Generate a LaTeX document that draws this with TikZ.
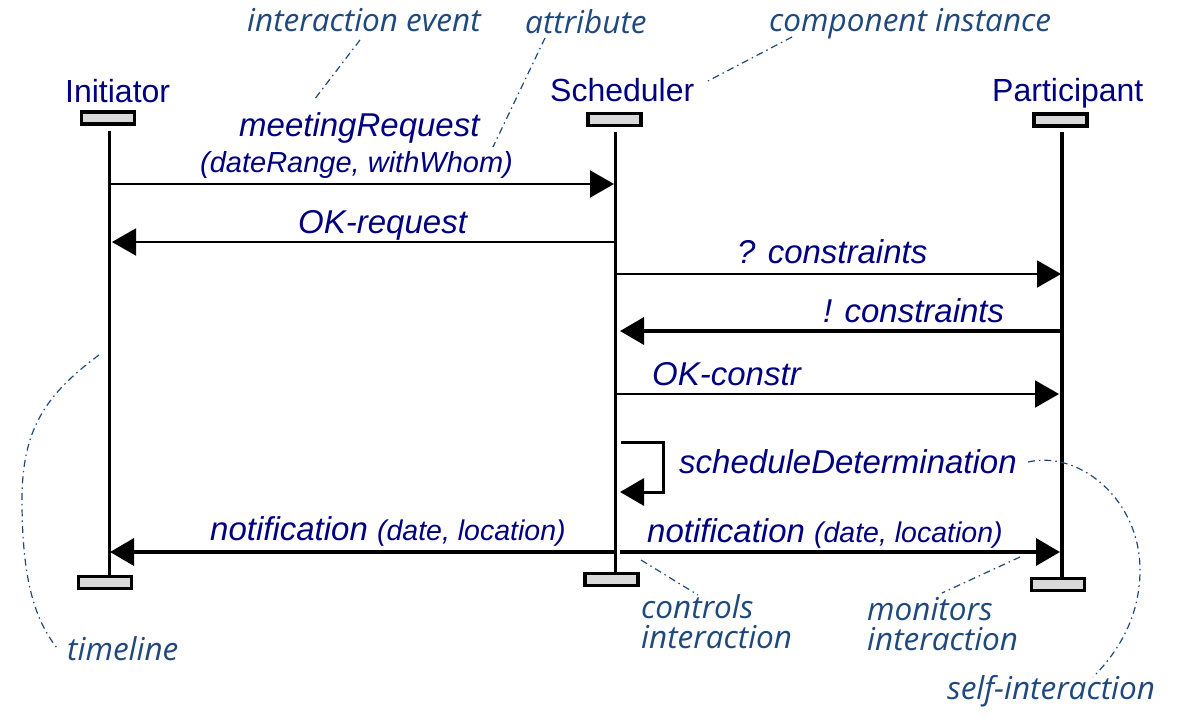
\documentclass[tikz,border=0pt]{standalone}
\usepackage{fontspec}
\setmainfont{Liberation Sans}
\newfontfamily\annfont{Open Sans}
\usetikzlibrary{arrows.meta}
\definecolor{navy}{RGB}{0,0,128}
\definecolor{ann}{RGB}{31,73,125}
\definecolor{boxgray}{RGB}{217,217,217}
\begin{document}
\begin{tikzpicture}[x=1pt,y=-1pt,
  lifebox/.style={draw=black, line width=3.5pt, fill=boxgray, minimum width=53pt, minimum height=12pt, inner sep=0pt},
  lifeline/.style={line width=3pt},
  msg/.style={line width=2pt, -{Triangle[length=24pt,width=27pt]}},
  msgbold/.style={msg, line width=3.5pt},
  hdr/.style={text=navy, font=\fontsize{32}{36}\selectfont, inner sep=0pt, anchor=base west},
  lbl/.style={text=navy, font=\fontsize{33}{36}\selectfont\itshape, inner sep=0pt, anchor=base west},
  lblsmall/.style={lbl, font=\fontsize{29}{32}\selectfont\itshape},
  annot/.style={text=ann, font=\annfont\fontsize{31.5}{34}\selectfont\itshape, inner sep=0pt, anchor=base west},
  leader/.style={draw=ann, line width=1.2pt, dash pattern=on 7pt off 4pt on 1.5pt off 4pt}
]
\useasboundingbox (0,0) rectangle (1193,722);

% headers
\node[hdr] (hI) at (65,103) {Initiator};
\node[hdr] (hS) at (550,102) {Scheduler};
\node[hdr] (hP) at (992,102) {Participant};

% lifeline boxes
\node[lifebox] (tI) at (108,118) {};
\node[lifebox] (tS) at (614.5,119.5) {};
\node[lifebox] (tP) at (1060.5,120) {};
\node[lifebox] (bI) at (105,582.5) {};
\node[lifebox] (bS) at (611.5,579.5) {};
\node[lifebox] (bP) at (1058,584.5) {};

% lifelines
\coordinate (iT) at (109,131);
\coordinate (iB) at (109,576);
\coordinate (sT) at (615.5,132);
\coordinate (sB) at (615.5,573);
\coordinate (pT) at (1062,132);
\coordinate (pB) at (1062,578);
\draw[lifeline] (iT) -- (iB);
\draw[lifeline] (sT) -- (sB);
\draw[lifeline, line width=4pt] (pT) -- (pB);

% message end points
\coordinate (m1a) at (111,184);  \coordinate (m1b) at (614,184);
\coordinate (m2a) at (615,242);  \coordinate (m2b) at (112,242);
\coordinate (m3a) at (617,274);  \coordinate (m3b) at (1061,274);
\coordinate (m4a) at (1062,331); \coordinate (m4b) at (620,331);
\coordinate (m5a) at (617,394);  \coordinate (m5b) at (1059,394);
\coordinate (m6a) at (621,442);  \coordinate (m6c) at (663,442);
\coordinate (m6d) at (663,492);  \coordinate (m6b) at (620,492);
\coordinate (m7a) at (615,552);  \coordinate (m7b) at (110,552);
\coordinate (m8a) at (620,552);  \coordinate (m8b) at (1060,552);

\draw[msg] (m1a) -- (m1b);
\draw[msg] (m2a) -- (m2b);
\draw[msg] (m3a) -- (m3b);
\draw[msgbold] (m4a) -- (m4b);
\draw[msg] (m5a) -- (m5b);
\draw[msg, line width=3pt] (m6a) -- (m6c) -- (m6d) -- (m6b);
\draw[msgbold] (m7a) -- (m7b);
\draw[msgbold] (m8a) -- (m8b);

% message labels
\node[lbl] (l1) at (239,137) {meetingRequest};
\node[lblsmall] (l1b) at (200,173) {(dateRange, withWhom)};
\node[lbl] (l2) at (298,233) {OK-request};
\node[lbl] (l3) at (737,263) {? constraints};
\node[lbl] (l4) at (823,322) {! constraints};
\node[lbl] (l5) at (652,385) {OK-constr};
\node[lbl] (l6) at (679,473) {scheduleDetermination};
\node[lbl] (l7) at (210,540) {notification {\fontsize{28.5}{32}\selectfont (date, location)}};
\node[lbl] (l8) at (647,542) {notification {\fontsize{28.5}{32}\selectfont (date, location)}};

% annotations
\node[annot] (aIE) at (247,32) {interaction event};
\node[annot] (aAt) at (525,34) {attribute};
\node[annot] (aCI) at (769,32) {component instance};
\node[annot] (aTL) at (67,660) {timeline};
\node[annot] (aC1) at (641,618) {controls};
\node[annot] (aC2) at (641,648) {interaction};
\node[annot] (aM1) at (867,620) {monitors};
\node[annot] (aM2) at (867,650) {interaction};
\node[annot] (aSI) at (947,699) {self-interaction};

% leader lines
\coordinate (e1) at (360,40);   \coordinate (e2) at (314,100);
\coordinate (t1) at (545,38);   \coordinate (t2) at (493,147);
\coordinate (c1) at (792,37);   \coordinate (c2) at (706,82);
\coordinate (tl1) at (99,355);  \coordinate (tl2) at (22,500); \coordinate (tl3) at (57,648);
\coordinate (k1) at (641,560);  \coordinate (k2) at (698,595);
\coordinate (n1) at (1020,557); \coordinate (n2) at (942,593);
\coordinate (s1) at (1028,462); \coordinate (s2) at (1140,570); \coordinate (s3) at (1093,677);

\draw[leader] (e1) -- (e2);
\draw[leader] (t1) -- (t2);
\draw[leader] (c1) -- (c2);
\draw[leader] (tl1) .. controls (45,395) and (22,430) .. (tl2) .. controls (22,580) and (35,620) .. (tl3);
\draw[leader] (k1) -- (k2);
\draw[leader] (n1) -- (n2);
\draw[leader] (s1) .. controls (1080,450) and (1140,500) .. (s2) .. controls (1140,620) and (1115,655) .. (s3);
\end{tikzpicture}
\end{document}
